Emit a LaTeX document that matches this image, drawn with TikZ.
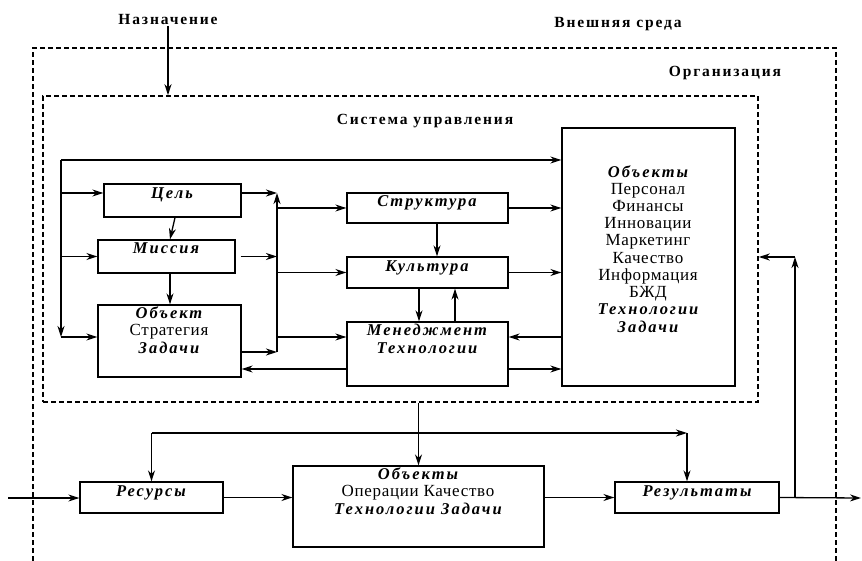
\documentclass[tikz,border=0pt]{standalone}
\usepackage{fontspec}
\setmainfont{Liberation Serif}
\newfontfamily\wideface[LetterSpace=12]{Liberation Serif}
\newfontfamily\itemface[LetterSpace=4]{Liberation Serif}
\newcommand{\kw}[1]{{\wideface\bfseries\itshape\fontsize{16.5}{17.2}\selectfont #1}}
\usetikzlibrary{arrows.meta}

\begin{document}
\begin{tikzpicture}[x=1pt, y=-1pt,
        >={Stealth[length=11pt,width=7pt,inset=3.5pt]},
        line width=1.3pt,
        frame/.style={draw, line width=1.6pt, dash pattern=on 5pt off 3pt},
        box/.style={draw, rectangle, inner sep=0},
        title/.style={font=\wideface\bfseries\fontsize{15.5}{18}\selectfont, inner sep=0, anchor=base},
        item/.style={font=\itemface\fontsize{17}{17.2}\selectfont, align=center, inner sep=0, anchor=base}]
    \useasboundingbox (0,0) rectangle (862,561);

    \node[title] (nazn) at (168,25) {Назначение};
    \node[title] (sreda) at (618,28) {Внешняя среда};
    \node[title] (org) at (725,77) {Организация};
    \node[title] (sysT) at (425,125) {Система управления};

    \draw[frame] (33,561) -- (33,48) -- (836,48) -- (836,561);
    \node[frame, minimum width=715, minimum height=306] (sys) at (400.5,249) {};

    \node[box, minimum width=137, minimum height=33] (cel) at (172.5,200.5) {};
    \node[box, minimum width=137, minimum height=33] (mis) at (166.5,256.5) {};
    \node[box, minimum width=143, minimum height=72] (obj) at (169.5,341) {};
    \node[box, minimum width=161, minimum height=30] (str) at (427.5,208) {};
    \node[box, minimum width=161, minimum height=31] (kul) at (427.5,272.5) {};
    \node[box, minimum width=161, minimum height=64] (men) at (427.5,354) {};
    \node[box, minimum width=173, minimum height=258] (objs) at (648.5,257) {};
    \node[box, minimum width=143, minimum height=31] (res) at (151.5,497.5) {};
    \node[box, minimum width=251, minimum height=81] (oper) at (418.5,506.5) {};
    \node[box, minimum width=164, minimum height=31] (rez) at (697,497.5) {};

    \node[item] (celT) at (172,199) {\kw{Цель}};
    \node[item] (misT) at (166,254) {\kw{Миссия}};
    \node[item] (objT) at (169,353) {\kw{Объект}\\Стратегия\\\kw{Задачи}};
    \node[item] (strT) at (427,207) {\kw{Структура}};
    \node[item] (kulT) at (427,272) {\kw{Культура}};
    \node[item] (menT) at (427,353) {\kw{Менеджмент}\\\kw{Технологии}};
    \node[item] (objsT) at (648,332) {\kw{Объекты}\\Персонал\\Финансы\\Инновации\\Маркетинг\\Качество\\Информация\\БЖД\\\kw{Технологии}\\\kw{Задачи}};
    \node[item] (resT) at (151,496) {\kw{Ресурсы}};
    \node[item] (operT) at (418,514) {\kw{Объекты}\\Операции Качество\\\kw{Технологии Задачи}};
    \node[item] (rezT) at (697,496) {\kw{Результаты}};

    \coordinate (busT) at (61,160);
    \coordinate (busB) at (61,337);
    \coordinate (midT) at (277,193);
    \coordinate (midB) at (277,352);
    \coordinate (loopL) at (151.5,433);
    \coordinate (loopR) at (687,433);
    \coordinate (in) at (8,498);
    \coordinate (out) at (861,498);
    \coordinate (fbT) at (795,257);
    \coordinate (fbB) at (795,498);

    \draw[->] (nazn.south) -- (nazn.south |- sys.north);

    \draw[->] (busT) -- (objs.west |- busT);
    \draw[->] (busT) -- (busB);
    \draw[->] (busB) -- (busB -| obj.west);
    \draw[->] (busT |- 0,193) -- (cel.west |- 0,193);
    \draw[->] (busT |- mis.west) -- (mis.west);

    \draw[->] ([xshift=2.5pt]cel.south) -- ([xshift=3.5pt]mis.north);
    \draw[->] ([xshift=3.5pt]mis.south) -- ([xshift=0.5pt]obj.north);

    \draw[->] (cel.east |- midT) -- (midT);
    \draw[->] ([xshift=5pt]mis.east) -- (midT |- mis.east);
    \draw[->] (obj.east |- midB) -- (midB);
    \draw[->] (midB) -- (midT);
    \draw[->] (midT |- str.west) -- (str.west);
    \draw[->] (midT |- kul.west) -- (kul.west);
    \draw[->] (midT |- 0,337) -- (men.west |- 0,337);
    \draw[->] (men.west |- 0,369) -- (obj.east |- 0,369);

    \draw[->] ([xshift=9.5pt]str.south) -- ([xshift=9.5pt]kul.north);
    \draw[->] ([xshift=-8.5pt]kul.south) -- ([xshift=-8.5pt]men.north);
    \draw[->] ([xshift=27.5pt]men.north) -- ([xshift=27.5pt]kul.south);

    \draw[->] (str.east) -- (str.east -| objs.west);
    \draw[->] (kul.east) -- (kul.east -| objs.west);
    \draw[->] (objs.west |- 0,337) -- (men.east |- 0,337);
    \draw[->] (men.east |- 0,369) -- (objs.west |- 0,369);

    \draw[->] (sys.south -| oper.north) -- (oper.north);
    \draw[->] (loopL) -- (res.north);
    \draw[->] (loopL) -- (loopR);
    \draw[->] (loopR) -- (loopR |- rez.north);

    \draw[->] (in) -- (in -| res.west);
    \draw[->] (res.east) -- (res.east -| oper.west);
    \draw[->] (oper.east |- res.east) -- (rez.west);
    \draw[->] (rez.east) -- (out);
    \draw[->] (fbB) -- (fbT);
    \draw[->] (fbT) -- (fbT -| sys.east);
\end{tikzpicture}
\end{document}
